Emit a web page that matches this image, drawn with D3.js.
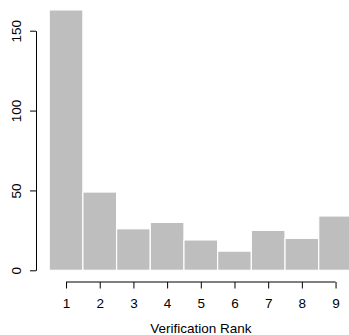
<!DOCTYPE html>
<html>
<head>
<meta charset="utf-8">
<script src="https://cdn.jsdelivr.net/npm/d3@7"></script>
<style>
  html, body { margin: 0; padding: 0; background: #fff; }
  svg { display: block; }
  text { font-family: "Liberation Sans", Arial, Helvetica, sans-serif; }
</style>
</head>
<body>
<script>
const ranks = [1, 2, 3, 4, 5, 6, 7, 8, 9];
const counts = [163, 49, 26, 30, 19, 12, 25, 20, 34];
const yTicks = [0, 50, 100, 150];
const xLabel = "Verification Rank";

const W = 349, H = 335;
const svg = d3.select("body").append("svg").attr("width", W).attr("height", H);

const x = d3.scaleLinear().domain([0.5, 9.5]).range([49.2, 352.4]);
const y = d3.scaleLinear().domain([0, 150]).range([270.3, 30.7]);

const plot = svg.append("g");
plot.selectAll("rect").data(ranks).enter().append("rect")
  .attr("x", d => x(d - 0.5))
  .attr("width", d => x(d + 0.5) - x(d - 0.5))
  .attr("y", (d, i) => y(counts[i]))
  .attr("height", (d, i) => y(0) - y(counts[i]))
  .attr("fill", "#bebebe")
  .attr("stroke", "#ffffff")
  .attr("stroke-width", 1.2);

// Y axis
const yAxisG = svg.append("g").attr("transform", "translate(36,0)")
  .call(d3.axisLeft(y).tickValues(yTicks).tickSize(6).tickSizeOuter(0).tickFormat(d3.format("d")));
yAxisG.select(".domain").attr("stroke", "#000").attr("stroke-width", 1);
yAxisG.selectAll(".tick line").attr("stroke", "#000").attr("stroke-width", 1);
yAxisG.selectAll(".tick text")
  .attr("x", 0).attr("dy", 0)
  .attr("text-anchor", "middle")
  .attr("transform", "translate(-15.3,0) rotate(-90)")
  .attr("fill", "#000")
  .style("font-size", "13.5px")
  .style("font-family", "'Liberation Sans', Arial, Helvetica, sans-serif");

// X axis
const axisY = 282;
const xAxisG = svg.append("g").attr("transform", `translate(0,${axisY})`)
  .call(d3.axisBottom(x).tickValues(ranks).tickSize(6.5).tickSizeOuter(0).tickFormat(d3.format("d")));
xAxisG.select(".domain").remove();
xAxisG.append("line")
  .attr("x1", x(ranks[0])).attr("x2", x(ranks[ranks.length - 1]))
  .attr("y1", 0).attr("y2", 0)
  .attr("stroke", "#000").attr("stroke-width", 1);
xAxisG.selectAll(".tick line").attr("stroke", "#000").attr("stroke-width", 1);
xAxisG.selectAll(".tick text")
  .attr("y", 26.3).attr("dy", 0)
  .attr("fill", "#000")
  .style("font-size", "13.5px")
  .style("font-family", "'Liberation Sans', Arial, Helvetica, sans-serif");

svg.append("text")
  .attr("x", (x(0.5) + x(9.5)) / 2)
  .attr("y", 333)
  .attr("text-anchor", "middle")
  .attr("fill", "#000")
  .style("font-size", "13.5px")
  .text(xLabel);
</script>
</body>
</html>
